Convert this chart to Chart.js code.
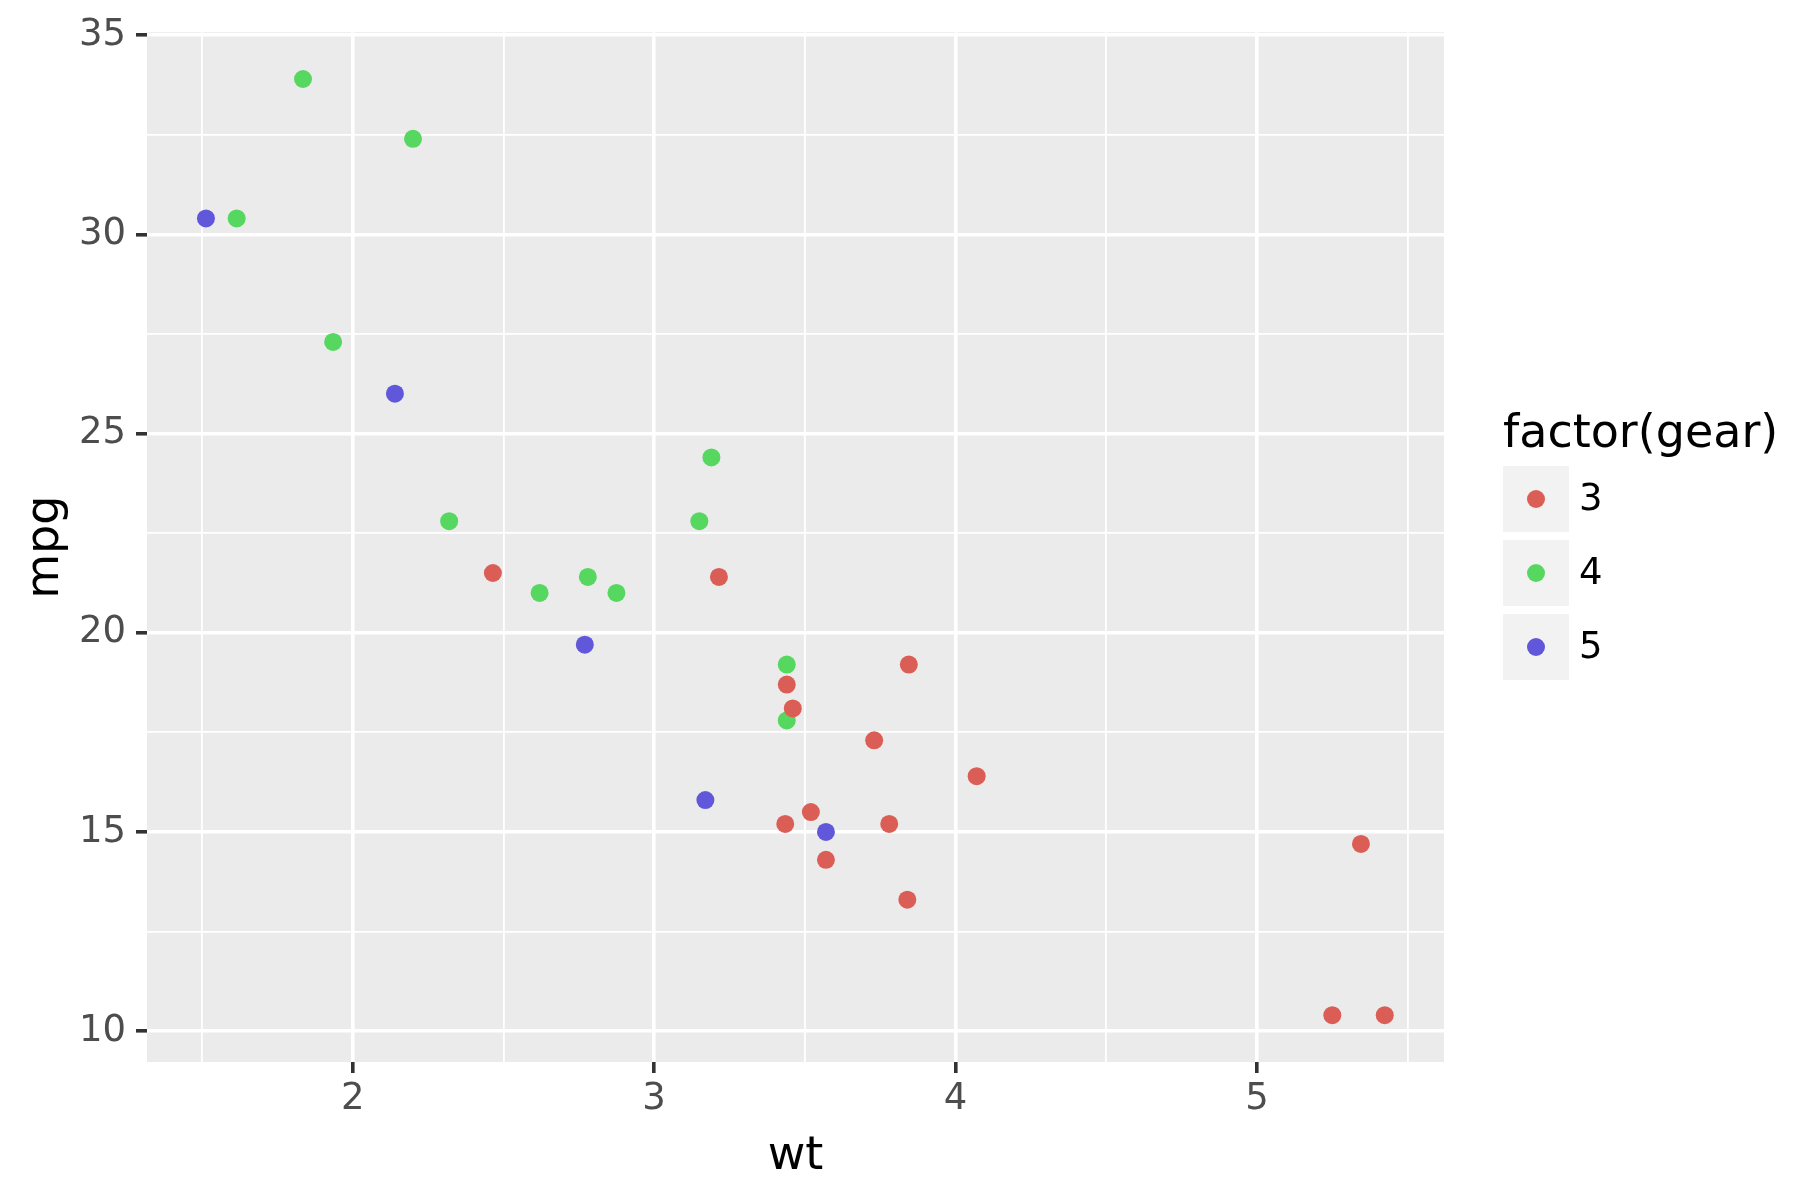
<!DOCTYPE html>
<html>
<head>
<meta charset="utf-8">
<script src="https://cdn.jsdelivr.net/npm/chart.js@4/dist/chart.umd.min.js"></script>
<style>
  body { margin: 0; background: #fff; }
  canvas { display: block; }
</style>
</head>
<body>
<canvas id="grafico" width="1800" height="1200"></canvas>
<script>
// mtcars: wt vs mpg, by gear
var gear3_wt  = [3.215, 3.440, 3.460, 3.570, 4.070, 3.730, 3.780, 5.250, 5.424, 5.345, 2.465, 3.520, 3.435, 3.840, 3.845];
var gear3_mpg = [21.4, 18.7, 18.1, 14.3, 16.4, 17.3, 15.2, 10.4, 10.4, 14.7, 21.5, 15.5, 15.2, 13.3, 19.2];
var gear4_wt  = [2.620, 2.875, 2.320, 3.190, 3.150, 3.440, 3.440, 2.200, 1.615, 1.835, 1.935, 2.780];
var gear4_mpg = [21.0, 21.0, 22.8, 24.4, 22.8, 19.2, 17.8, 32.4, 30.4, 33.9, 27.3, 21.4];
var gear5_wt  = [2.140, 1.513, 3.170, 2.770, 3.570];
var gear5_mpg = [26.0, 30.4, 15.8, 19.7, 15.0];
var gearLabels = ["3", "4", "5"];
var gearColors = ["#DB5E56", "#56D75F", "#6157DB"];
var xTicks = [2, 3, 4, 5];
var yTicks = [10, 15, 20, 25, 30, 35];

function pontos(xs, ys) {
    var out = [];
    for (var i = 0; i < xs.length; i++) out.push({x: xs[i], y: ys[i]});
    return out;
}

var font = "DejaVu Sans";

function isMajor(v, list) {
    return list.some(function (t) { return Math.abs(t - v) < 1e-6; });
}

var painelFundo = {
    id: "painelFundo",
    beforeDraw: function (chart) {
        var a = chart.chartArea, c = chart.ctx;
        c.save();
        c.fillStyle = "#EBEBEB";
        c.fillRect(a.left, a.top, a.right - a.left, a.bottom - a.top);
        c.restore();
    },
    afterDraw: function (chart) {
        var a = chart.chartArea, c = chart.ctx;
        c.save();
        c.fillStyle = "#000000";
        c.font = "46px '" + font + "'";
        c.textAlign = "center";
        c.textBaseline = "middle";
        c.fillText("wt", (a.left + a.right) / 2, 1157);
        c.translate(46, (a.top + a.bottom) / 2);
        c.rotate(-Math.PI / 2);
        c.fillText("mpg", 0, 0);
        c.restore();

        // legend
        c.save();
        c.fillStyle = "#000000";
        c.font = "46px '" + font + "'";
        c.textAlign = "left";
        c.textBaseline = "alphabetic";
        c.fillText("factor(gear)", 1503, 447);
        for (var i = 0; i < gearLabels.length; i++) {
            var top = 466 + i * 74;
            c.fillStyle = "#F2F2F2";
            c.fillRect(1503, top, 66, 66);
            c.fillStyle = gearColors[i];
            c.beginPath();
            c.arc(1536, top + 33, 9, 0, Math.PI * 2);
            c.fill();
            c.fillStyle = "#000000";
            c.font = "37px '" + font + "'";
            c.textBaseline = "middle";
            c.fillText(gearLabels[i], 1579, top + 34);
        }
        c.restore();
    }
};

var ctx = document.getElementById("grafico").getContext("2d");
var myChart = new Chart(ctx, {
    type: "scatter",
    data: {
        datasets: [
            { label: gearLabels[0], data: pontos(gear3_wt, gear3_mpg), backgroundColor: gearColors[0] },
            { label: gearLabels[1], data: pontos(gear4_wt, gear4_mpg), backgroundColor: gearColors[1] },
            { label: gearLabels[2], data: pontos(gear5_wt, gear5_mpg), backgroundColor: gearColors[2] }
        ]
    },
    options: {
        responsive: false,
        animation: false,
        events: [],
        layout: { padding: { top: 30, right: 356, left: 0, bottom: 0 } },
        elements: { point: { radius: 9, borderWidth: 0, hoverRadius: 9 } },
        plugins: { legend: { display: false }, tooltip: { enabled: false } },
        scales: {
            x: {
                type: "linear",
                min: 1.31745,
                max: 5.62055,
                border: { display: false },
                afterFit: function (s) { s.height = 138; },
                afterBuildTicks: function (s) {
                    var t = [];
                    for (var v = 1.5; v <= 5.5 + 1e-9; v += 0.5) t.push({value: v});
                    s.ticks = t;
                },
                grid: {
                    color: "#FFFFFF",
                    lineWidth: function (c) { return isMajor(c.tick.value, xTicks) ? 3.6 : 1.8; },
                    tickColor: function (c) { return isMajor(c.tick.value, xTicks) ? "#333333" : "rgba(0,0,0,0)"; },
                    tickWidth: 3.6,
                    tickLength: 11
                },
                ticks: {
                    color: "#4D4D4D",
                    font: { family: font, size: 37 },
                    padding: 4,
                    maxRotation: 0,
                    autoSkip: false,
                    callback: function (v) { return isMajor(v, xTicks) ? String(v) : ""; }
                }
            },
            y: {
                type: "linear",
                min: 9.225,
                max: 35.075,
                border: { display: false },
                afterFit: function (s) { s.width = 147; },
                afterBuildTicks: function (s) {
                    var t = [];
                    for (var v = 10; v <= 35 + 1e-9; v += 2.5) t.push({value: v});
                    s.ticks = t;
                },
                grid: {
                    color: "#FFFFFF",
                    lineWidth: function (c) { return isMajor(c.tick.value, yTicks) ? 3.6 : 1.8; },
                    tickColor: function (c) { return isMajor(c.tick.value, yTicks) ? "#333333" : "rgba(0,0,0,0)"; },
                    tickWidth: 3.6,
                    tickLength: 11
                },
                ticks: {
                    color: "#4D4D4D",
                    font: { family: font, size: 37 },
                    padding: 10,
                    autoSkip: false,
                    callback: function (v) { return isMajor(v, yTicks) ? String(v) : ""; }
                }
            }
        }
    },
    plugins: [painelFundo]
});
</script>
</body>
</html>
